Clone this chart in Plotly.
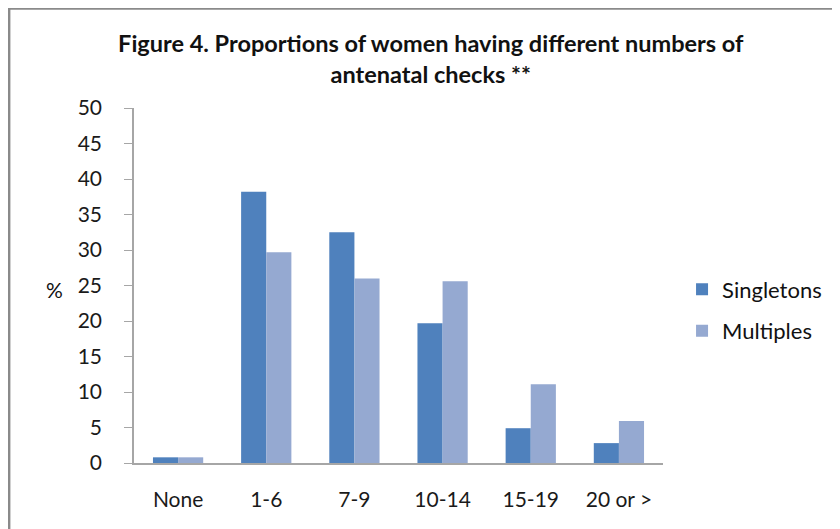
import plotly.graph_objects as go

categories = ["None", "1-6", "7-9", "10-14", "15-19", "20 or >"]
singletons = [0.8, 38.2, 32.5, 19.7, 4.9, 2.8]
multiples = [0.8, 29.7, 26.0, 25.6, 11.1, 5.9]

FONT = "Lato"

fig = go.Figure()

fig.add_trace(go.Bar(
    x=categories, y=singletons, name="Singletons", legendgroup="s",
    marker=dict(color="#4F81BD", line=dict(width=0)),
))
fig.add_trace(go.Bar(
    x=categories, y=multiples, name="Multiples", legendgroup="m",
    marker=dict(color="#95A9D1", line=dict(width=0)),
))

# frame around the chart area (left and top edges visible in the reference)
fig.add_shape(type="path", xref="paper", yref="paper",
              path="M -0.236,-0.3 L -0.236,1.28 L 1.5,1.28",
              line=dict(color="#8a8a8a", width=2.5))

fig.add_annotation(text="%", xref="paper", yref="paper", x=-0.17, y=0.49,
                   showarrow=False, font=dict(family=FONT, size=21, color="#111"))

fig.update_layout(
    width=840, height=529,
    margin=dict(l=126, r=185, t=100, b=74),
    paper_bgcolor="white", plot_bgcolor="white",
    barmode="group", bargap=0.43, bargroupgap=0,
    font=dict(family=FONT, color="#111"),
    title=dict(
        text="<b>Figure 4. Proportions of women having different numbers of<br>antenatal checks **</b>",
        x=0.561, xref="paper", xanchor="center",
        y=1 - 44 / 529, yref="container", yanchor="middle",
        font=dict(family=FONT, size=23.5, color="#111"),
    ),
    legend=dict(
        x=1.036, xref="paper", xanchor="left",
        y=0.43, yanchor="middle",
        font=dict(family=FONT, size=22, color="#111"),
        itemwidth=30, traceorder="grouped", tracegroupgap=10,
        bgcolor="rgba(0,0,0,0)",
    ),
    xaxis=dict(
        showline=True, linecolor="#a6a6a6", linewidth=1.5,
        ticks="", tickfont=dict(family=FONT, size=21, color="#1a1a1a"),
        ticklabelstandoff=17, showgrid=False,
    ),
    yaxis=dict(
        range=[0, 50], dtick=5, showgrid=False, zeroline=False,
        showline=True, linecolor="#a6a6a6", linewidth=1.5,
        ticks="outside", ticklen=8, tickcolor="#a6a6a6",
        tickfont=dict(family=FONT, size=21, color="#1a1a1a"),
        ticklabelstandoff=18,
    ),
)

fig.write_html("out.html")
